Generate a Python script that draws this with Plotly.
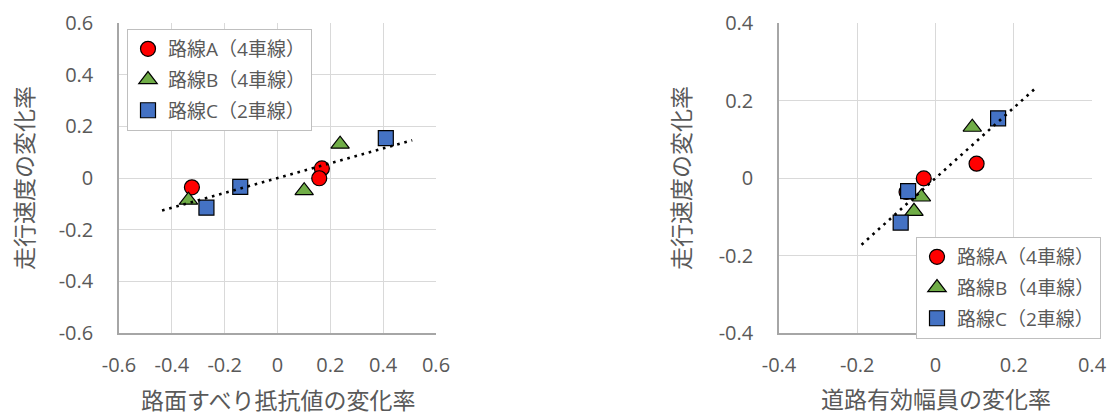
import numpy as np
import plotly.graph_objects as go

# ---- data ----
series_names = ["路線A（4車線）", "路線B（4車線）", "路線C（2車線）"]
speed_A = [-0.036, 0.037, -0.001]
speed_B = [-0.086, -0.049, 0.131]
speed_C = [-0.115, -0.034, 0.154]

skid_A = [-0.324, 0.168, 0.158]
skid_B = [-0.337, 0.101, 0.237]
skid_C = [-0.269, -0.141, 0.410]

width_A = [-0.074, 0.105, -0.030]
width_B = [-0.055, -0.036, 0.094]
width_C = [-0.089, -0.070, 0.160]

left_ticks = [-0.6, -0.4, -0.2, 0, 0.2, 0.4, 0.6]
left_ticktext = ["-0.6", "-0.4", "-0.2", "0", "0.2", "0.4", "0.6"]
right_ticks = [-0.4, -0.2, 0, 0.2, 0.4]
right_ticktext = ["-0.4", "-0.2", "0", "0.2", "0.4"]
trend_forecast = 0.1

left_xtitle = "路面すべり抵抗値の変化率"
right_xtitle = "道路有効幅員の変化率"
ytitle = "走行速度の変化率"

# ---- styles ----
colors = ["#FF0000", "#70AD47", "#4472C4"]
symbols = ["circle", "triangle-up", "square"]
sizes = [15, 16, 15]
TXT = "#595959"
GRID = "#D9D9D9"
AXLINE = "#A6A6A6"
FONT = "Open Sans, Noto Sans CJK JP, sans-serif"
JFONT = "Noto Sans CJK JP, sans-serif"

fig = go.Figure()

speeds = [speed_A, speed_B, speed_C]
panels = [([skid_A, skid_B, skid_C], "x", "y", "legend"),
          ([width_A, width_B, width_C], "x2", "y2", "legend2")]

for xs_list, xa, ya, lg in panels:
    for i in range(3):
        fig.add_trace(go.Scatter(
            x=xs_list[i], y=speeds[i], mode="markers", name=series_names[i],
            xaxis=xa, yaxis=ya, legend=lg, legendgroup=f"{lg}_{i}",
            marker=dict(symbol=symbols[i], size=sizes[i], color=colors[i],
                        line=dict(color="black", width=1.2)),
        ))
    allx = np.concatenate([np.array(v) for v in xs_list])
    ally = np.concatenate([np.array(v) for v in speeds])
    slope, icpt = np.polyfit(allx, ally, 1)
    tx = np.array([allx.min() - trend_forecast, allx.max() + trend_forecast])
    fig.add_trace(go.Scatter(
        x=tx, y=slope * tx + icpt, mode="lines", showlegend=False,
        xaxis=xa, yaxis=ya, hoverinfo="skip",
        line=dict(color="black", width=2.6, dash="2.6px,4.8px"),
    ))

W, H = 1109, 416
def px_x(v):
    return v / W
def px_y(v):
    return 1 - v / H

axis_common = dict(showgrid=True, gridcolor=GRID, gridwidth=1.3, zeroline=False,
                   showline=True, linecolor=AXLINE, linewidth=1.5, automargin=False,
                   ticks="outside", tickcolor="rgba(0,0,0,0)",
                   tickfont=dict(family=FONT, size=20, color=TXT))

legend_common = dict(xanchor="left", yanchor="top", bgcolor="white",
                     bordercolor="#BFBFBF", borderwidth=1, tracegroupgap=3,
                     font=dict(family=FONT, size=19, color=TXT))

fig.update_layout(
    width=W, height=H,
    margin=dict(l=0, r=0, t=0, b=0, autoexpand=False),
    paper_bgcolor="white", plot_bgcolor="white",
    font=dict(family=FONT, color=TXT),
    xaxis=dict(domain=[px_x(119), px_x(436)], range=[-0.6, 0.6], anchor="y",
               tickvals=left_ticks, ticktext=left_ticktext, ticklen=13, **axis_common),
    yaxis=dict(domain=[px_y(333), px_y(23)], range=[-0.6, 0.6], anchor="x",
               tickvals=left_ticks, ticktext=left_ticktext, ticklen=20, **axis_common),
    xaxis2=dict(domain=[px_x(779), px_x(1092)], range=[-0.4, 0.4], anchor="y2",
                tickvals=right_ticks, ticktext=right_ticktext, ticklen=13, **axis_common),
    yaxis2=dict(domain=[px_y(333), px_y(23)], range=[-0.4, 0.4], anchor="x2",
                tickvals=right_ticks, ticktext=right_ticktext, ticklen=20, **axis_common),
    legend=dict(x=px_x(127), y=px_y(29), **legend_common),
    legend2=dict(x=px_x(916), y=px_y(237), **legend_common),
    showlegend=True,
)

annots = [
    dict(text=ytitle, x=px_x(23), y=px_y(178), textangle=-90),
    dict(text=ytitle, x=px_x(680), y=px_y(178), textangle=-90),
    dict(text=left_xtitle, x=px_x(277.5), y=px_y(399)),
    dict(text=right_xtitle, x=px_x(935.5), y=px_y(398)),
]
for a in annots:
    fig.add_annotation(xref="paper", yref="paper", showarrow=False,
                       xanchor="center", yanchor="middle",
                       font=dict(family=JFONT, size=23, color=TXT), **a)

fig.write_html("out.html", config={"displayModeBar": False},
               post_script="document.body.style.margin='0px';document.body.style.overflow='hidden';")
